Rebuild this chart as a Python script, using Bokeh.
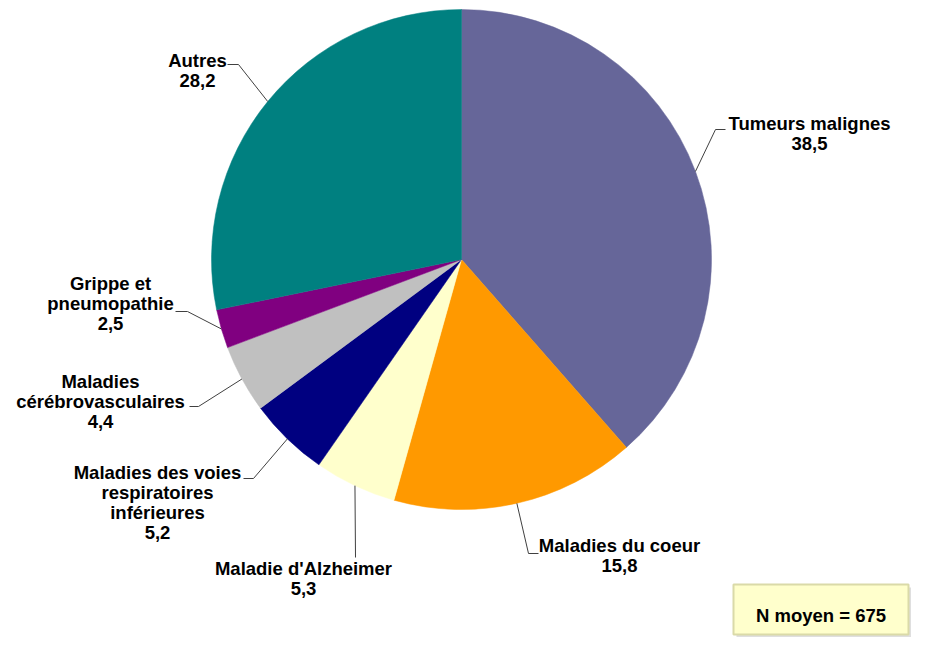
import math
from bokeh.plotting import figure
from bokeh.models import Range1d, ColumnDataSource
from bokeh.core.properties import value
from bokeh.embed import file_html
from bokeh.resources import INLINE

# ---- data ----
categories = ["Tumeurs malignes", "Maladies du coeur", "Maladie d'Alzheimer",
              "Maladies des voies\nrespiratoires\ninférieures",
              "Maladies\ncérébrovasculaires", "Grippe et\npneumopathie", "Autres"]
values = [38.5, 15.8, 5.3, 5.2, 4.4, 2.5, 28.2]
colors = ["#666699", "#FF9900", "#FFFFCC", "#000080", "#C0C0C0", "#800080", "#008080"]
note_text = "N moyen = 675"

# ---- layout (screen pixels) ----
W, H = 911, 637
def Y(py):
    return H - py

cx, cy, R = 461, 259, 250
TEXT_SHIFT = 7  # compensation for the renderer's baseline placement
# label centre x, first baseline y, elbow point, leader end point
label_layout = [
    (809, 130, (715, 129), (725, 129)),
    (619, 552, (528, 553), (538, 553)),
    (303, 575, (355, 557), (355, 557)),
    (157, 479, (253, 478), (243, 478)),
    (100, 388, (198, 406), (189, 406)),
    (110, 290, (187, 311), (175, 311)),
    (197, 67, (238, 64), (227, 64)),
]
line_step = 20
FONT = value("Liberation Sans")

p = figure(width=W, height=H, output_backend="svg", toolbar_location=None,
           x_range=Range1d(0, W), y_range=Range1d(0, H),
           min_border=0, outline_line_color=None)
p.axis.visible = False
p.grid.visible = False
p.background_fill_color = "white"
p.border_fill_color = "white"

total = sum(values)
starts, ends, mids = [], [], []
cum = 0.0
for v in values:
    a0 = math.pi / 2 - 2 * math.pi * cum / total
    a1 = math.pi / 2 - 2 * math.pi * (cum + v) / total
    starts.append(a0)
    ends.append(a1)
    mids.append((a0 + a1) / 2)
    cum += v

src = ColumnDataSource(dict(x=[cx] * len(values), y=[Y(cy)] * len(values),
                            start=starts, end=ends, color=colors))
p.wedge(x="x", y="y", radius=R, start_angle="start", end_angle="end",
        direction="clock", fill_color="color", line_color="color", line_width=0.5,
        source=src)

# leader lines
xs, ys = [], []
for m, (lx, lb, elbow, endp) in zip(mids, label_layout):
    sx = cx + R * math.cos(m)
    sy = Y(cy) + R * math.sin(m)
    xs.append([sx, elbow[0], endp[0]])
    ys.append([sy, Y(elbow[1]), Y(endp[1])])
p.multi_line(xs=xs, ys=ys, line_color="#404040", line_width=1)

# labels
tx, ty, tt = [], [], []
for cat, v, (lx, lb, elbow, endp) in zip(categories, values, label_layout):
    lines = cat.split("\n") + [f"{v:.1f}".replace(".", ",")]
    for i, ln in enumerate(lines):
        tx.append(lx)
        ty.append(Y(lb + i * line_step - TEXT_SHIFT))
        tt.append(ln)
p.text(x=tx, y=ty, text=tt, text_align="center", text_baseline="alphabetic",
       text_font=FONT, text_font_style="bold", text_font_size="18.5px",
       text_color="#000000")

# note box
bx0, bx1, by0, by1 = 733, 908, 584, 634
p.quad(left=bx0 + 3, right=bx1 + 3, top=Y(by0 + 3), bottom=Y(by1 + 3),
       fill_color="#BFBFBF", fill_alpha=0.5, line_color=None)
p.quad(left=bx0, right=bx1, top=Y(by0), bottom=Y(by1),
       fill_color="#FFFFCC", line_color="#DADAA8", line_width=2)
p.text(x=[(bx0 + bx1) / 2], y=[Y(622 - TEXT_SHIFT)], text=[note_text], text_align="center",
       text_baseline="alphabetic", text_font=FONT, text_font_style="bold",
       text_font_size="18.5px", text_color="#000000")

open("out.html", "w").write(file_html(p, INLINE))
